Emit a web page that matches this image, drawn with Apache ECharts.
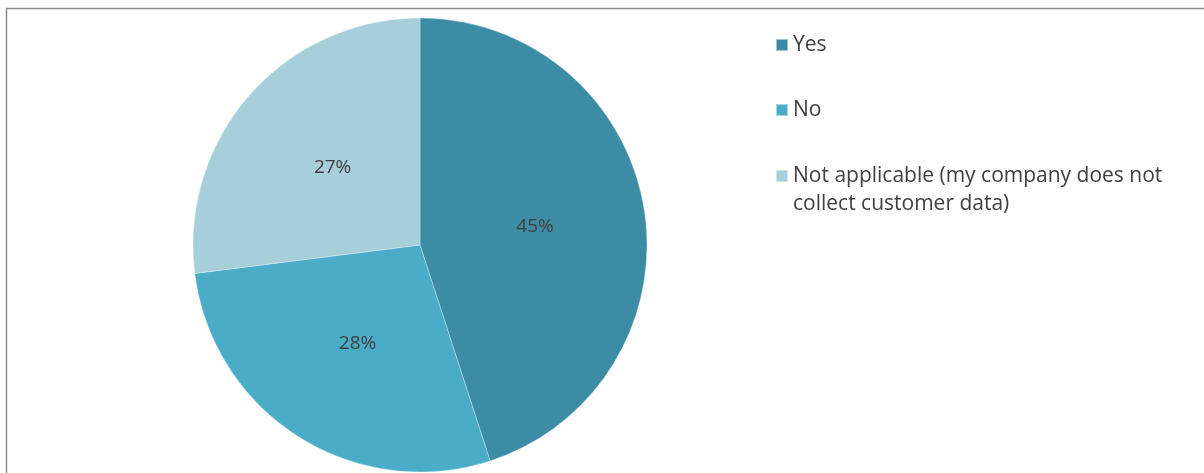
<!DOCTYPE html>
<html>
<head>
<meta charset="utf-8">
<script src="https://cdn.jsdelivr.net/npm/echarts@6/dist/echarts.min.js"></script>
<style>
  html, body { margin: 0; padding: 0; background: #ffffff; }
  #chart { width: 1204px; height: 473px; }
</style>
</head>
<body>
<div id="chart"></div>
<script>
// Survey answers and their shares (percent)
const categories = ['Yes', 'No', 'Not applicable (my company does not collect customer data)'];
// the leading blank line keeps the swatch level with the first text line
const legendLabels = ['Yes', 'No', ' \nNot applicable (my company does not\ncollect customer data)'];
const shares = [45, 28, 27];
const sliceColors = ['#3C8CA5', '#4AACC6', '#A6CEDB'];

const FONT = '"Open Sans", "Liberation Sans", sans-serif';
const TEXT_COLOR = '#404040';

const chart = echarts.init(document.getElementById('chart'), null, { renderer: 'canvas' });

// one legend block per answer so each sits at its own row
const legendTops = [31, 96, 134];
const legends = categories.map(function (name, i) {
  return {
    data: [name],
    orient: 'vertical',
    left: 775,
    top: legendTops[i],
    padding: 0,
    itemWidth: 12,
    itemHeight: 12,
    icon: 'rect',
    selectedMode: false,
    formatter: function () { return legendLabels[i]; },
    textStyle: {
      fontFamily: FONT,
      fontSize: 21,
      color: TEXT_COLOR,
      lineHeight: 28
    }
  };
});

chart.setOption({
  animation: false,
  color: sliceColors,
  legend: legends,
  graphic: [{
    type: 'rect',
    silent: true,
    shape: { x: 6.5, y: 8.5, width: 1400, height: 600 },
    style: { fill: 'none', stroke: '#8a8a8a', lineWidth: 1.5 }
  }],
  series: [{
    type: 'pie',
    center: [420, 245],
    radius: 227,
    startAngle: 90,
    clockwise: true,
    avoidLabelOverlap: false,
    itemStyle: { borderColor: 'rgba(255,255,255,0.5)', borderWidth: 0.6 },
    label: {
      show: true,
      position: 'inside',
      formatter: '{d}%',
      fontFamily: FONT,
      fontSize: 19,
      color: TEXT_COLOR
    },
    labelLine: { show: false },
    emphasis: { disabled: true },
    data: categories.map(function (name, i) {
      return { name: name, value: shares[i] };
    })
  }]
});
</script>
</body>
</html>
